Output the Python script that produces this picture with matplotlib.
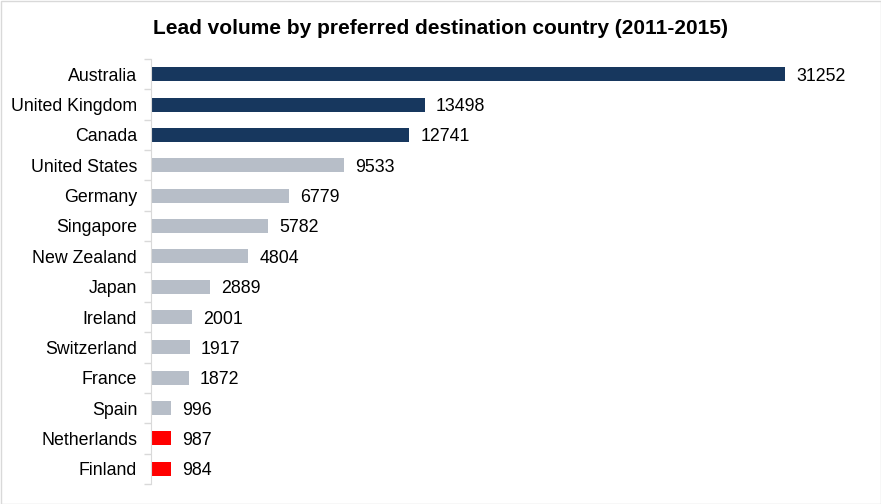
import numpy as np
import matplotlib.pyplot as plt
from matplotlib.patches import Rectangle

countries = ['Australia', 'United Kingdom', 'Canada', 'United States', 'Germany',
             'Singapore', 'New Zealand', 'Japan', 'Ireland', 'Switzerland',
             'France', 'Spain', 'Netherlands', 'Finland']
leads = [31252, 13498, 12741, 9533, 6779, 5782, 4804, 2889, 2001, 1917,
         1872, 996, 987, 984]
groups = ['top'] * 3 + ['mid'] * 9 + ['low'] * 2

palette = {'top': '#17375E', 'mid': '#B7BEC8', 'low': '#FF0000'}
colors = [palette[g] for g in groups]

plt.rcParams['font.family'] = ['Liberation Sans', 'DejaVu Sans']

fig = plt.figure(figsize=(8.81, 5.04), dpi=100)
ax = fig.add_axes([151 / 881, 1 - 484 / 504, 710 / 881, 425 / 504])

y = np.arange(len(countries))
ax.barh(y, leads, height=0.46, color=colors)
ax.set_ylim(len(countries) - 0.5, -0.5)
ax.set_xlim(0, 35000)

for yi, v in zip(y, leads):
    ax.annotate(str(v), (v, yi), xytext=(8, 0), textcoords='offset points',
                va='center_baseline', ha='left', fontsize=12.8)

ax.set_yticks(y)
ax.set_yticklabels(countries, fontsize=12.8)
ax.tick_params(axis='y', which='major', length=0, pad=10)
ax.set_yticks(np.arange(-0.5, len(countries)), minor=True)
ax.tick_params(axis='y', which='minor', length=5, color='#D9D9D9', width=1)
ax.set_xticks([])
for side in ['top', 'right', 'bottom']:
    ax.spines[side].set_visible(False)
ax.spines['left'].set_color('#D9D9D9')

fig.text(0.5, 1 - 29 / 504, 'Lead volume by preferred destination country (2011-2015)',
         ha='center', va='center', fontsize=15, fontweight='bold')

fig.patches.append(Rectangle((0.5 / 881, 0.5 / 504), 1 - 1 / 881, 1 - 1 / 504,
                             transform=fig.transFigure, fill=False,
                             edgecolor='#D9D9D9', linewidth=1))

fig.savefig('out.png', dpi=100)
